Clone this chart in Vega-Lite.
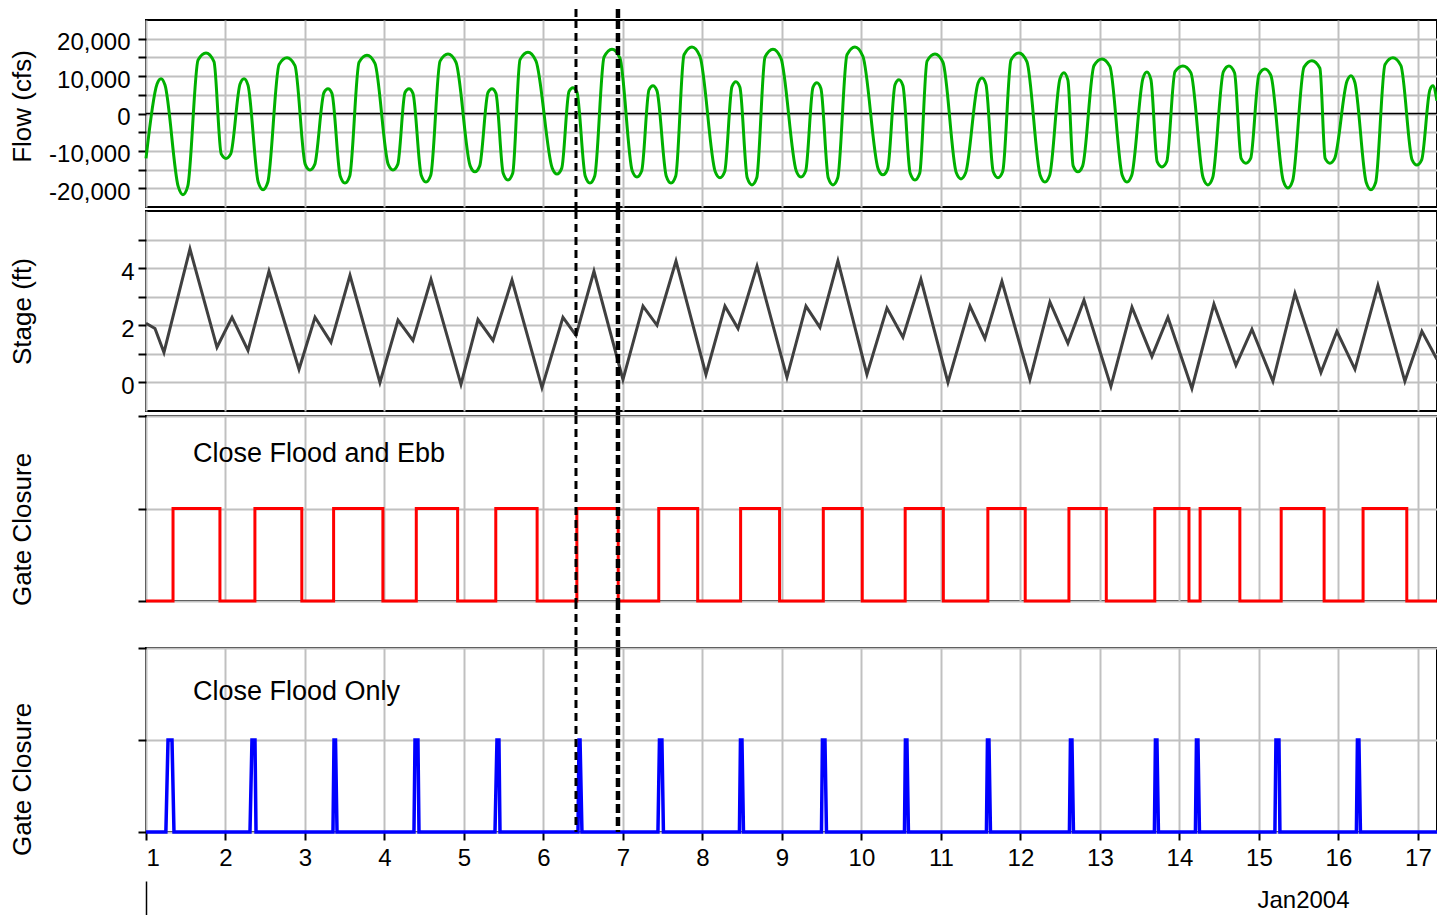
{
"$schema":"https://vega.github.io/schema/vega-lite/v6.json",
"padding":{"left":8,"top":6,"right":0,"bottom":0},
"spacing":0,
"bounds":"flush",
"datasets":{
"flow":[{"t":1.000,"q":-12000},{"t":1.139,"q":7900},{"t":1.189,"q":9300},{"t":1.239,"q":7600},{"t":1.405,"q":-19500},{"t":1.465,"q":-21700},{"t":1.525,"q":-19500},{"t":1.655,"q":14300},{"t":1.755,"q":16200},{"t":1.855,"q":13900},{"t":1.946,"q":-10800},{"t":2.006,"q":-12000},{"t":2.066,"q":-10800},{"t":2.183,"q":7900},{"t":2.233,"q":9300},{"t":2.283,"q":7600},{"t":2.412,"q":-18400},{"t":2.472,"q":-20400},{"t":2.532,"q":-18400},{"t":2.674,"q":13100},{"t":2.774,"q":14900},{"t":2.874,"q":12800},{"t":3.003,"q":-13600},{"t":3.063,"q":-15100},{"t":3.123,"q":-13600},{"t":3.239,"q":5600},{"t":3.289,"q":6600},{"t":3.339,"q":5400},{"t":3.443,"q":-16700},{"t":3.503,"q":-18600},{"t":3.563,"q":-16700},{"t":3.680,"q":13700},{"t":3.780,"q":15600},{"t":3.880,"q":13400},{"t":4.047,"q":-13600},{"t":4.107,"q":-15100},{"t":4.167,"q":-13600},{"t":4.258,"q":5600},{"t":4.308,"q":6600},{"t":4.358,"q":5400},{"t":4.462,"q":-16500},{"t":4.522,"q":-18300},{"t":4.582,"q":-16500},{"t":4.699,"q":14000},{"t":4.799,"q":15900},{"t":4.899,"q":13700},{"t":5.078,"q":-14000},{"t":5.138,"q":-15600},{"t":5.198,"q":-14000},{"t":5.302,"q":5600},{"t":5.352,"q":6600},{"t":5.402,"q":5400},{"t":5.493,"q":-16000},{"t":5.553,"q":-17800},{"t":5.613,"q":-16000},{"t":5.705,"q":14400},{"t":5.805,"q":16400},{"t":5.905,"q":14100},{"t":6.110,"q":-14600},{"t":6.170,"q":-16200},{"t":6.230,"q":-14600},{"t":6.321,"q":5900},{"t":6.371,"q":6900},{"t":6.421,"q":5700},{"t":6.525,"q":-16700},{"t":6.585,"q":-18600},{"t":6.645,"q":-16700},{"t":6.762,"q":15100},{"t":6.862,"q":17200},{"t":6.962,"q":14800},{"t":7.116,"q":-15300},{"t":7.176,"q":-17000},{"t":7.236,"q":-15300},{"t":7.327,"q":6300},{"t":7.377,"q":7400},{"t":7.427,"q":6100},{"t":7.544,"q":-16700},{"t":7.604,"q":-18600},{"t":7.664,"q":-16700},{"t":7.768,"q":15700},{"t":7.868,"q":17800},{"t":7.968,"q":15300},{"t":8.160,"q":-15500},{"t":8.220,"q":-17200},{"t":8.280,"q":-15500},{"t":8.371,"q":7200},{"t":8.421,"q":8500},{"t":8.471,"q":7000},{"t":8.563,"q":-17200},{"t":8.623,"q":-19100},{"t":8.683,"q":-17200},{"t":8.787,"q":15100},{"t":8.887,"q":17200},{"t":8.987,"q":14800},{"t":9.179,"q":-15300},{"t":9.239,"q":-17000},{"t":9.299,"q":-15300},{"t":9.390,"q":7000},{"t":9.440,"q":8200},{"t":9.490,"q":6700},{"t":9.582,"q":-17200},{"t":9.642,"q":-19100},{"t":9.702,"q":-17200},{"t":9.818,"q":15700},{"t":9.918,"q":17800},{"t":10.018,"q":15300},{"t":10.210,"q":-14800},{"t":10.270,"q":-16400},{"t":10.330,"q":-14800},{"t":10.422,"q":7700},{"t":10.472,"q":9000},{"t":10.522,"q":7400},{"t":10.613,"q":-16000},{"t":10.673,"q":-17800},{"t":10.733,"q":-16000},{"t":10.825,"q":14000},{"t":10.925,"q":15900},{"t":11.025,"q":13700},{"t":11.192,"q":-15800},{"t":11.252,"q":-17500},{"t":11.312,"q":-15800},{"t":11.466,"q":8100},{"t":11.516,"q":9500},{"t":11.566,"q":7800},{"t":11.657,"q":-15500},{"t":11.717,"q":-17200},{"t":11.777,"q":-15500},{"t":11.881,"q":14300},{"t":11.981,"q":16200},{"t":12.081,"q":13900},{"t":12.248,"q":-16500},{"t":12.308,"q":-18300},{"t":12.368,"q":-16500},{"t":12.497,"q":9300},{"t":12.547,"q":10900},{"t":12.597,"q":8900},{"t":12.663,"q":-14000},{"t":12.723,"q":-15600},{"t":12.783,"q":-14000},{"t":12.925,"q":12800},{"t":13.025,"q":14600},{"t":13.125,"q":12600},{"t":13.280,"q":-16500},{"t":13.340,"q":-18300},{"t":13.400,"q":-16500},{"t":13.541,"q":9400},{"t":13.591,"q":11100},{"t":13.641,"q":9100},{"t":13.720,"q":-12900},{"t":13.780,"q":-14300},{"t":13.840,"q":-12900},{"t":13.944,"q":11200},{"t":14.044,"q":12700},{"t":14.144,"q":10900},{"t":14.298,"q":-17200},{"t":14.358,"q":-19100},{"t":14.418,"q":-17200},{"t":14.553,"q":11200},{"t":14.623,"q":12700},{"t":14.693,"q":10900},{"t":14.776,"q":-12000},{"t":14.836,"q":-13300},{"t":14.896,"q":-12000},{"t":15.000,"q":10400},{"t":15.075,"q":11900},{"t":15.150,"q":10200},{"t":15.305,"q":-17900},{"t":15.365,"q":-19900},{"t":15.425,"q":-17900},{"t":15.567,"q":12400},{"t":15.667,"q":14100},{"t":15.767,"q":12100},{"t":15.833,"q":-12000},{"t":15.893,"q":-13300},{"t":15.953,"q":-12000},{"t":16.107,"q":8600},{"t":16.157,"q":10100},{"t":16.207,"q":8300},{"t":16.349,"q":-18400},{"t":16.409,"q":-20400},{"t":16.469,"q":-18400},{"t":16.586,"q":13100},{"t":16.686,"q":14900},{"t":16.786,"q":12800},{"t":16.927,"q":-12400},{"t":16.987,"q":-13800},{"t":17.047,"q":-12400},{"t":17.150,"q":6300},{"t":17.189,"q":7400},{"t":17.239,"q":3400}],
"stage":[{"t":1.000,"s":2.07},{"t":1.113,"s":1.89},{"t":1.226,"s":1.05},{"t":1.553,"s":4.67},{"t":1.893,"s":1.23},{"t":2.082,"s":2.28},{"t":2.283,"s":1.12},{"t":2.547,"s":3.89},{"t":2.925,"s":0.46},{"t":3.126,"s":2.28},{"t":3.327,"s":1.40},{"t":3.566,"s":3.75},{"t":3.943,"s":0.00},{"t":4.170,"s":2.18},{"t":4.358,"s":1.47},{"t":4.585,"s":3.61},{"t":4.962,"s":-0.07},{"t":5.176,"s":2.20},{"t":5.365,"s":1.47},{"t":5.604,"s":3.58},{"t":5.981,"s":-0.18},{"t":6.245,"s":2.28},{"t":6.409,"s":1.65},{"t":6.635,"s":3.89},{"t":7.000,"s":0.10},{"t":7.252,"s":2.67},{"t":7.428,"s":2.00},{"t":7.667,"s":4.25},{"t":8.044,"s":0.28},{"t":8.283,"s":2.67},{"t":8.447,"s":1.89},{"t":8.686,"s":4.07},{"t":9.063,"s":0.18},{"t":9.302,"s":2.67},{"t":9.478,"s":1.93},{"t":9.704,"s":4.25},{"t":10.069,"s":0.28},{"t":10.321,"s":2.60},{"t":10.522,"s":1.58},{"t":10.748,"s":3.61},{"t":11.088,"s":0.00},{"t":11.365,"s":2.67},{"t":11.553,"s":1.54},{"t":11.767,"s":3.54},{"t":12.119,"s":0.10},{"t":12.371,"s":2.81},{"t":12.597,"s":1.37},{"t":12.799,"s":2.88},{"t":13.138,"s":-0.14},{"t":13.403,"s":2.63},{"t":13.654,"s":0.91},{"t":13.855,"s":2.28},{"t":14.157,"s":-0.21},{"t":14.434,"s":2.74},{"t":14.711,"s":0.60},{"t":14.912,"s":1.86},{"t":15.176,"s":0.04},{"t":15.453,"s":3.12},{"t":15.780,"s":0.35},{"t":15.981,"s":1.79},{"t":16.208,"s":0.46},{"t":16.497,"s":3.40},{"t":16.836,"s":0.04},{"t":17.050,"s":1.79},{"t":17.239,"s":0.81}],
"ebb":[{"t":1.0,"g":0},{"t":1.34,"g":1},{"t":1.93,"g":0},{"t":2.37,"g":1},{"t":2.96,"g":0},{"t":3.36,"g":1},{"t":3.98,"g":0},{"t":4.40,"g":1},{"t":4.92,"g":0},{"t":5.40,"g":1},{"t":5.92,"g":0},{"t":6.42,"g":1},{"t":6.94,"g":0},{"t":7.45,"g":1},{"t":7.94,"g":0},{"t":8.48,"g":1},{"t":8.97,"g":0},{"t":9.52,"g":1},{"t":10.01,"g":0},{"t":10.55,"g":1},{"t":11.03,"g":0},{"t":11.59,"g":1},{"t":12.06,"g":0},{"t":12.61,"g":1},{"t":13.08,"g":0},{"t":13.69,"g":1},{"t":14.12,"g":0},{"t":14.26,"g":1},{"t":14.76,"g":0},{"t":15.28,"g":1},{"t":15.82,"g":0},{"t":16.31,"g":1},{"t":16.86,"g":0},{"t":17.24,"g":0}],
"floodonly":[{"t":1.0,"g":0},{"t":1.250,"g":0},{"t":1.277,"g":1},{"t":1.327,"g":1},{"t":1.352,"g":0},{"t":2.308,"g":0},{"t":2.333,"g":1},{"t":2.371,"g":1},{"t":2.384,"g":0},{"t":3.352,"g":0},{"t":3.365,"g":1},{"t":3.384,"g":1},{"t":3.403,"g":0},{"t":4.371,"g":0},{"t":4.384,"g":1},{"t":4.421,"g":1},{"t":4.434,"g":0},{"t":5.390,"g":0},{"t":5.415,"g":1},{"t":5.440,"g":1},{"t":5.453,"g":0},{"t":6.434,"g":0},{"t":6.447,"g":1},{"t":6.460,"g":1},{"t":6.484,"g":0},{"t":7.440,"g":0},{"t":7.459,"g":1},{"t":7.490,"g":1},{"t":7.509,"g":0},{"t":8.465,"g":0},{"t":8.478,"g":1},{"t":8.497,"g":1},{"t":8.516,"g":0},{"t":9.497,"g":0},{"t":9.509,"g":1},{"t":9.541,"g":1},{"t":9.560,"g":0},{"t":10.541,"g":0},{"t":10.553,"g":1},{"t":10.572,"g":1},{"t":10.591,"g":0},{"t":11.572,"g":0},{"t":11.585,"g":1},{"t":11.604,"g":1},{"t":11.623,"g":0},{"t":12.616,"g":0},{"t":12.629,"g":1},{"t":12.648,"g":1},{"t":12.667,"g":0},{"t":13.685,"g":0},{"t":13.698,"g":1},{"t":13.717,"g":1},{"t":13.736,"g":0},{"t":14.201,"g":0},{"t":14.214,"g":1},{"t":14.233,"g":1},{"t":14.252,"g":0},{"t":15.201,"g":0},{"t":15.214,"g":1},{"t":15.252,"g":1},{"t":15.264,"g":0},{"t":16.226,"g":0},{"t":16.239,"g":1},{"t":16.258,"g":1},{"t":16.277,"g":0},{"t":17.24,"g":0}]
},
"vconcat":[
{"width":1291,"height":11,"view":{"stroke":null},"layer":[
 {"data":{"values":[{}]},"mark":{"type":"rule","color":"black","strokeWidth":3,"strokeDash":[8,5]},"encoding":{"x":{"datum":6.409,"type":"quantitative","scale":{"domain":[1,17.24],"nice":false,"zero":false},"axis":null}}},
 {"data":{"values":[{}]},"mark":{"type":"rule","color":"black","strokeWidth":4.5,"strokeDash":[9,4]},"encoding":{"x":{"datum":6.937,"type":"quantitative","scale":{"domain":[1,17.24],"nice":false,"zero":false},"axis":null}}}
]},
{"width":1291,"height":187,"resolve":{"axis":{"x":"independent","y":"independent"}},"layer":[
 {"data":{"values":[{}]},"mark":{"type":"rule","color":"black","strokeWidth":1.5},"encoding":{"y":{"datum":0,"type":"quantitative","axis":null}}},
 {"data":{"name":"flow"},"mark":{"type":"line","color":"#00b000","strokeWidth":3,"interpolate":"monotone"},"encoding":{
   "x":{"field":"t","type":"quantitative","scale":{"domain":[1,17.24],"nice":false,"zero":false},"axis":{"orient":"bottom","values":[1,2,3,4,5,6,7,8,9,10,11,12,13,14,15,16,17],"grid":true,"ticks":false,"labels":false,"domain":false,"title":null}},
   "y":{"field":"q","type":"quantitative","scale":{"domain":[-25000,25000],"nice":false,"zero":false},"axis":{"orient":"left","values":[-20000,-15000,-10000,-5000,0,5000,10000,15000,20000],"labelExpr":"datum.value % 10000 === 0 ? replace(format(datum.value, ','), '\u2212', '-') : ''","tickSize":8,"labelPadding":8,"labelOffset":4,"grid":true,"domain":false,"title":"Flow (cfs)","titleX":-124,"titleY":86,"titleAngle":270,"titleAlign":"center","titleBaseline":"middle"}}}},
 {"data":{"values":[{}]},"mark":{"type":"rule","color":"black","strokeWidth":3,"strokeDash":[8,5]},"encoding":{"x":{"datum":6.409,"type":"quantitative","axis":null}}},
 {"data":{"values":[{}]},"mark":{"type":"rule","color":"black","strokeWidth":4.5,"strokeDash":[9,4]},"encoding":{"x":{"datum":6.937,"type":"quantitative","axis":null}}}
]},
{"width":1291,"height":4,"view":{"stroke":null},"layer":[
 {"data":{"values":[{}]},"mark":{"type":"rule","color":"black","strokeWidth":3,"strokeDash":[8,5]},"encoding":{"x":{"datum":6.409,"type":"quantitative","scale":{"domain":[1,17.24],"nice":false,"zero":false},"axis":null}}},
 {"data":{"values":[{}]},"mark":{"type":"rule","color":"black","strokeWidth":4.5,"strokeDash":[9,4]},"encoding":{"x":{"datum":6.937,"type":"quantitative","scale":{"domain":[1,17.24],"nice":false,"zero":false},"axis":null}}}
]},
{"width":1291,"height":200,"resolve":{"axis":{"x":"independent","y":"independent"}},"layer":[
 {"data":{"name":"stage"},"mark":{"type":"line","color":"#404040","strokeWidth":3},"encoding":{
   "x":{"field":"t","type":"quantitative","scale":{"domain":[1,17.24],"nice":false,"zero":false},"axis":{"orient":"bottom","values":[1,2,3,4,5,6,7,8,9,10,11,12,13,14,15,16,17],"grid":true,"ticks":false,"labels":false,"domain":false,"title":null}},
   "y":{"field":"s","type":"quantitative","scale":{"domain":[-1,6],"nice":false,"zero":false},"axis":{"orient":"left","values":[0,1,2,3,4,5],"labelExpr":"datum.value % 2 === 0 ? datum.label : ''","tickSize":8,"labelPadding":4,"labelOffset":4,"grid":true,"domain":false,"title":"Stage (ft)","titleX":-124,"titleY":100,"titleAngle":270,"titleAlign":"center","titleBaseline":"middle"}}}},
 {"data":{"values":[{}]},"mark":{"type":"rule","color":"black","strokeWidth":3,"strokeDash":[8,5]},"encoding":{"x":{"datum":6.409,"type":"quantitative","axis":null}}},
 {"data":{"values":[{}]},"mark":{"type":"rule","color":"black","strokeWidth":4.5,"strokeDash":[9,4]},"encoding":{"x":{"datum":6.937,"type":"quantitative","axis":null}}}
]},
{"width":1291,"height":5,"view":{"stroke":null},"layer":[
 {"data":{"values":[{}]},"mark":{"type":"rule","color":"black","strokeWidth":3,"strokeDash":[8,5]},"encoding":{"x":{"datum":6.409,"type":"quantitative","scale":{"domain":[1,17.24],"nice":false,"zero":false},"axis":null}}},
 {"data":{"values":[{}]},"mark":{"type":"rule","color":"black","strokeWidth":4.5,"strokeDash":[9,4]},"encoding":{"x":{"datum":6.937,"type":"quantitative","scale":{"domain":[1,17.24],"nice":false,"zero":false},"axis":null}}}
]},
{"width":1291,"height":185,"resolve":{"axis":{"x":"independent","y":"independent"}},"layer":[
 {"data":{"name":"ebb"},"mark":{"type":"line","color":"#ff0000","strokeWidth":3,"interpolate":"step-after"},"encoding":{
   "x":{"field":"t","type":"quantitative","scale":{"domain":[1,17.24],"nice":false,"zero":false},"axis":{"orient":"bottom","values":[1,2,3,4,5,6,7,8,9,10,11,12,13,14,15,16,17],"grid":true,"ticks":false,"labels":false,"domain":false,"title":null}},
   "y":{"field":"g","type":"quantitative","scale":{"domain":[0,2],"nice":false,"zero":false},"axis":{"orient":"left","values":[0,1,2],"labels":false,"tickSize":8,"grid":true,"domain":false,"title":"Gate Closure","titleX":-124,"titleY":113,"titleAngle":270,"titleAlign":"center","titleBaseline":"middle"}}}},
 {"data":{"values":[{"label":"Close Flood and Ebb"}]},"mark":{"type":"text","align":"left","baseline":"middle","fontSize":27,"color":"black"},"encoding":{"x":{"datum":1.59,"type":"quantitative","axis":null},"y":{"datum":1.59,"type":"quantitative","axis":null},"text":{"field":"label"}}},
 {"data":{"values":[{}]},"mark":{"type":"rule","color":"black","strokeWidth":3,"strokeDash":[8,5]},"encoding":{"x":{"datum":6.409,"type":"quantitative","axis":null}}},
 {"data":{"values":[{}]},"mark":{"type":"rule","color":"black","strokeWidth":4.5,"strokeDash":[9,4]},"encoding":{"x":{"datum":6.937,"type":"quantitative","axis":null}}}
]},
{"width":1291,"height":47,"view":{"stroke":null},"layer":[
 {"data":{"values":[{}]},"mark":{"type":"rule","color":"black","strokeWidth":3,"strokeDash":[8,5]},"encoding":{"x":{"datum":6.409,"type":"quantitative","scale":{"domain":[1,17.24],"nice":false,"zero":false},"axis":null}}},
 {"data":{"values":[{}]},"mark":{"type":"rule","color":"black","strokeWidth":4.5,"strokeDash":[9,4]},"encoding":{"x":{"datum":6.937,"type":"quantitative","scale":{"domain":[1,17.24],"nice":false,"zero":false},"axis":null}}}
]},
{"width":1291,"height":184,"resolve":{"axis":{"x":"independent","y":"independent"}},"layer":[
 {"data":{"name":"floodonly"},"mark":{"type":"line","color":"#0000ff","strokeWidth":3.5},"encoding":{
   "x":{"field":"t","type":"quantitative","scale":{"domain":[1,17.24],"nice":false,"zero":false},"axis":{"orient":"bottom","values":[1,2,3,4,5,6,7,8,9,10,11,12,13,14,15,16,17],"grid":true,"ticks":true,"tickSize":8,"labels":true,"labelPadding":6,"domain":false,"title":"Jan2004","titleX":1157,"titleY":68,"titleAlign":"center","titleBaseline":"middle","titleFontSize":24}},
   "y":{"field":"g","type":"quantitative","scale":{"domain":[0,2],"nice":false,"zero":false},"axis":{"orient":"left","values":[0,1,2],"labels":false,"tickSize":8,"grid":true,"domain":false,"title":"Gate Closure","titleX":-124,"titleY":131,"titleAngle":270,"titleAlign":"center","titleBaseline":"middle"}}}},
 {"data":{"values":[{"label":"Close Flood Only"}]},"mark":{"type":"text","align":"left","baseline":"middle","fontSize":27,"color":"black"},"encoding":{"x":{"datum":1.59,"type":"quantitative","axis":null},"y":{"datum":1.52,"type":"quantitative","axis":null},"text":{"field":"label"}}},
 {"data":{"values":[{}]},"mark":{"type":"rule","color":"black","strokeWidth":3,"strokeDash":[8,5]},"encoding":{"x":{"datum":6.409,"type":"quantitative","axis":null}}},
 {"data":{"values":[{}]},"mark":{"type":"rule","color":"black","strokeWidth":4.5,"strokeDash":[9,4]},"encoding":{"x":{"datum":6.937,"type":"quantitative","axis":null}}},
 {"data":{"values":[{}]},"mark":{"type":"rule","opacity":0},"encoding":{"x":{"datum":1,"type":"quantitative","axis":{"orient":"bottom","offset":49,"values":[1],"tickSize":35,"tickWidth":1.5,"labels":false,"grid":false,"domain":false,"title":null}}}}
]}
],
"config":{
 "font":"Liberation Sans",
 "view":{"stroke":"black","strokeWidth":2},
 "axis":{"gridColor":"#c0c0c0","gridWidth":2,"gridOpacity":1,"tickColor":"black","tickWidth":2,"labelColor":"black","titleColor":"black","labelFontSize":24,"titleFontSize":26,"titleFontWeight":"normal","labelFont":"Liberation Sans","titleFont":"Liberation Sans"}
}
}
